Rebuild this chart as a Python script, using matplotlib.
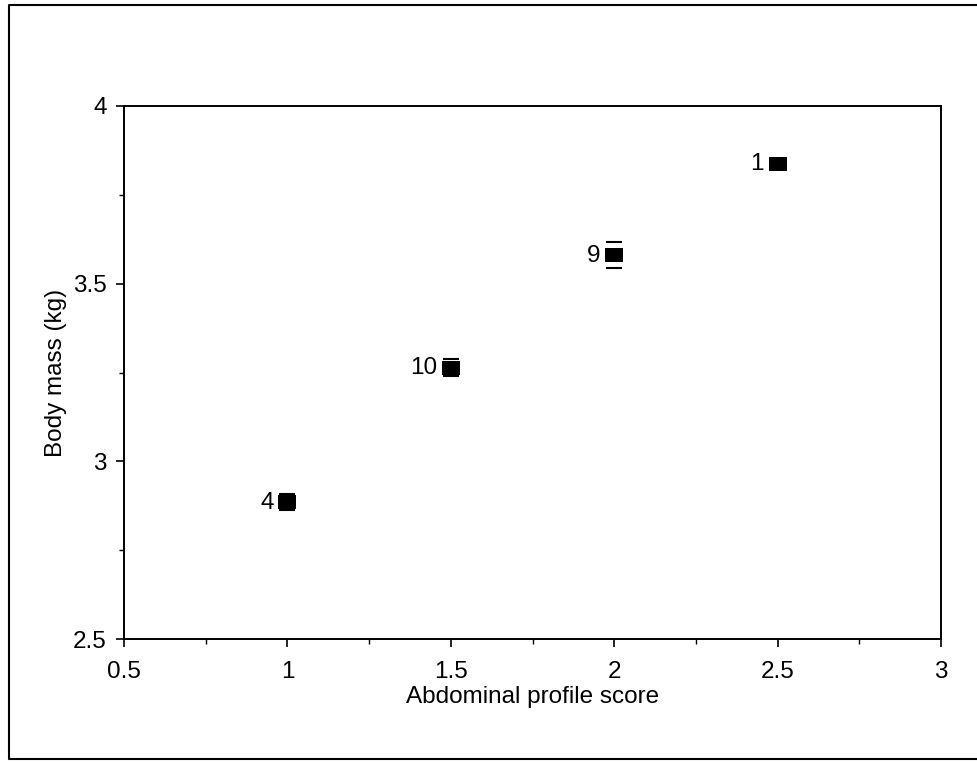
import matplotlib
matplotlib.use("Agg")
import matplotlib.pyplot as plt
from matplotlib.lines import Line2D
from matplotlib.ticker import MultipleLocator

plt.rcParams['font.family'] = ['Liberation Sans', 'DejaVu Sans']

scores = [1.0, 1.5, 2.0, 2.5]
body_mass = [2.886, 3.264, 3.580, 3.838]
errors = [0.022, 0.024, 0.036, 0.0]
labels = ["4", "10", "9", "1"]

fig = plt.figure(figsize=(9.78, 7.62), dpi=100)
ax = fig.add_axes([0.1268, 0.1614, 0.8354, 0.6995])

ax.errorbar(scores, body_mass, yerr=errors, fmt='none', ecolor='black',
            elinewidth=0.0, capsize=5.8, capthick=1.5, zorder=2)
rect_marker = [(-1.22, -1.0), (1.22, -1.0), (1.22, 1.0), (-1.22, 1.0), (-1.22, -1.0)]
ax.scatter(scores, body_mass, marker=rect_marker, s=150, color='black',
           linewidths=0, zorder=3)
for x, y, t in zip(scores, body_mass, labels):
    ax.annotate(t, (x, y), xytext=(-10, -0.5), textcoords='offset points',
                ha='right', va='center', fontsize=17.5)

ax.set_xlim(0.5, 3.0)
ax.set_ylim(2.5, 4.0)
ax.xaxis.set_major_locator(MultipleLocator(0.5))
ax.xaxis.set_minor_locator(MultipleLocator(0.25))
ax.yaxis.set_major_locator(MultipleLocator(0.5))
ax.yaxis.set_minor_locator(MultipleLocator(0.25))
ax.set_xticks([0.5, 1, 1.5, 2, 2.5, 3])
ax.set_xticklabels(["0.5", "1", "1.5", "2", "2.5", "3"])
ax.set_yticks([2.5, 3, 3.5, 4])
ax.set_yticklabels(["2.5", "3", "3.5", "4"])
ax.tick_params(which='major', direction='out', length=6, width=1.2, labelsize=17.5)
ax.tick_params(which='minor', direction='out', length=3.5, width=1.0)
ax.tick_params(axis='x', which='major', pad=9.5)
ax.tick_params(axis='y', which='major', pad=6.5)
for s in ax.spines.values():
    s.set_linewidth(1.4)

ax.set_xlabel("Abdominal profile score", fontsize=17.5, labelpad=2.5)
ax.set_ylabel("Body mass (kg)", fontsize=17.5, labelpad=4)

# outer frame
frame = Line2D([1.02, 0.0090, 0.0090, 1.02], [0.9928, 0.9928, 0.004, 0.004],
               transform=fig.transFigure, color='black', linewidth=1.5)
fig.add_artist(frame)

fig.savefig("out.png", dpi=100)
